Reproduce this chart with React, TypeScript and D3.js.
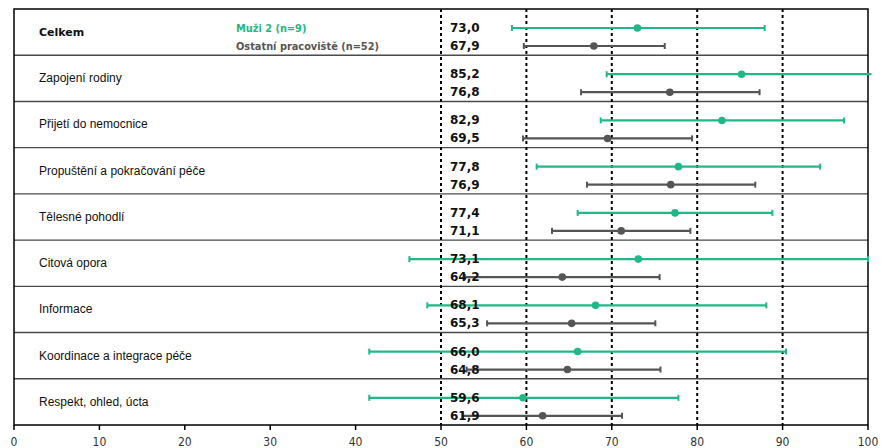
import React from "react";
import * as d3 from "d3";

const categories = [
  "Celkem",
  "Zapojení rodiny",
  "Přijetí do nemocnice",
  "Propuštění a pokračování péče",
  "Tělesné pohodlí",
  "Citová opora",
  "Informace",
  "Koordinace a integrace péče",
  "Respekt, ohled, úcta",
];

const seriesNames = ["Muži 2 (n=9)", "Ostatní pracoviště (n=52)"];

const muziMean = [73.0, 85.2, 82.9, 77.8, 77.4, 73.1, 68.1, 66.0, 59.6];
const muziLow = [58.3, 69.4, 68.7, 61.2, 66.0, 46.3, 48.4, 41.6, 41.6];
const muziHigh = [87.9, 103.0, 97.2, 94.4, 88.8, 100.0, 88.1, 90.4, 77.8];

const ostMean = [67.9, 76.8, 69.5, 76.9, 71.1, 64.2, 65.3, 64.8, 61.9];
const ostLow = [59.7, 66.4, 59.6, 67.1, 63.0, 52.8, 55.4, 53.0, 52.5];
const ostHigh = [76.2, 87.3, 79.4, 86.8, 79.2, 75.6, 75.1, 75.7, 71.2];

const xTicks = [0, 10, 20, 30, 40, 50, 60, 70, 80, 90, 100];
const refLines = [50, 60, 70, 80, 90];

const W = 881;
const H = 448;
const GREEN = "#20b886";
const GREY = "#555555";

export default function App() {
  const x = d3.scaleLinear().domain([0, 100]).range([14, 868]);
  const y = d3
    .scaleBand<string>()
    .domain(categories)
    .range([9, 425])
    .paddingInner(0)
    .paddingOuter(0);
  const fmt = (v: number) => d3.format(".1f")(v).replace(".", ",");
  const maxX = x(100) + 3.5;

  const series = [
    { mean: muziMean, low: muziLow, high: muziHigh, color: GREEN, off: 19 },
    { mean: ostMean, low: ostLow, high: ostHigh, color: GREY, off: 37 },
  ];

  return (
    <svg
      width={W}
      height={H}
      style={{ position: "absolute", left: 0, top: 0, background: "#fff" }}
    >
      {categories.slice(1).map((c) => (
        <line
          key={"sep" + c}
          x1={x(0)}
          x2={x(100)}
          y1={y(c)!}
          y2={y(c)!}
          stroke="#4a4a4a"
          strokeWidth={1.4}
        />
      ))}
      {refLines.map((v) => (
        <line
          key={"ref" + v}
          x1={x(v)}
          x2={x(v)}
          y1={9}
          y2={425}
          stroke="#000"
          strokeWidth={2}
          strokeDasharray="3,3"
        />
      ))}
      <rect
        x={x(0)}
        y={9}
        width={x(100) - x(0)}
        height={416}
        fill="none"
        stroke="#000"
        strokeWidth={1.5}
      />
      {xTicks.map((t) => (
        <g key={"t" + t}>
          <line x1={x(t)} x2={x(t)} y1={425} y2={430} stroke="#000" strokeWidth={1.5} />
          <text
            x={x(t)}
            y={446}
            textAnchor="middle"
            fontFamily="'DejaVu Sans Condensed', 'DejaVu Sans', sans-serif"
            fontSize={12}
            fill="#333"
          >
            {t}
          </text>
        </g>
      ))}
      {categories.map((c, i) => (
        <text
          key={"c" + c}
          x={39}
          y={y(c)! + 23}
          dominantBaseline="central"
          fontFamily={i === 0 ? "'DejaVu Sans', sans-serif" : "'Liberation Sans', sans-serif"}
          fontWeight={i === 0 ? "bold" : "normal"}
          fontSize={i === 0 ? 11 : 12}
          fill="#111"
        >
          {c}
        </text>
      ))}
      {seriesNames.map((s, i) => (
        <text
          key={"l" + s}
          x={236}
          y={y(categories[0])! + series[i].off}
          dominantBaseline="central"
          fontFamily="'DejaVu Sans', sans-serif"
          fontWeight="bold"
          fontSize={9.8}
          fill={series[i].color}
        >
          {s}
        </text>
      ))}
      {series.map((s, si) =>
        categories.map((c, i) => {
          const cy = y(c)! + s.off;
          const x1 = x(s.low[i]);
          const x2 = Math.min(x(s.high[i]), maxX);
          const capHi = s.high[i] <= 100;
          return (
            <g key={"e" + si + c}>
              <line x1={x1} x2={x2} y1={cy} y2={cy} stroke={s.color} strokeWidth={2.2} />
              <line x1={x1} x2={x1} y1={cy - 3} y2={cy + 3} stroke={s.color} strokeWidth={2} />
              {capHi && (
                <line x1={x2} x2={x2} y1={cy - 3} y2={cy + 3} stroke={s.color} strokeWidth={2} />
              )}
              <circle cx={x(s.mean[i])} cy={cy} r={3.8} fill={s.color} />
            </g>
          );
        })
      )}
      {series.map((s, si) =>
        categories.map((c, i) => (
          <text
            key={"v" + si + c}
            x={450}
            y={y(c)! + s.off}
            dominantBaseline="central"
            fontFamily="'DejaVu Sans', sans-serif"
            fontWeight="bold"
            fontSize={12}
            fill="#111"
          >
            {fmt(s.mean[i])}
          </text>
        ))
      )}
    </svg>
  );
}
